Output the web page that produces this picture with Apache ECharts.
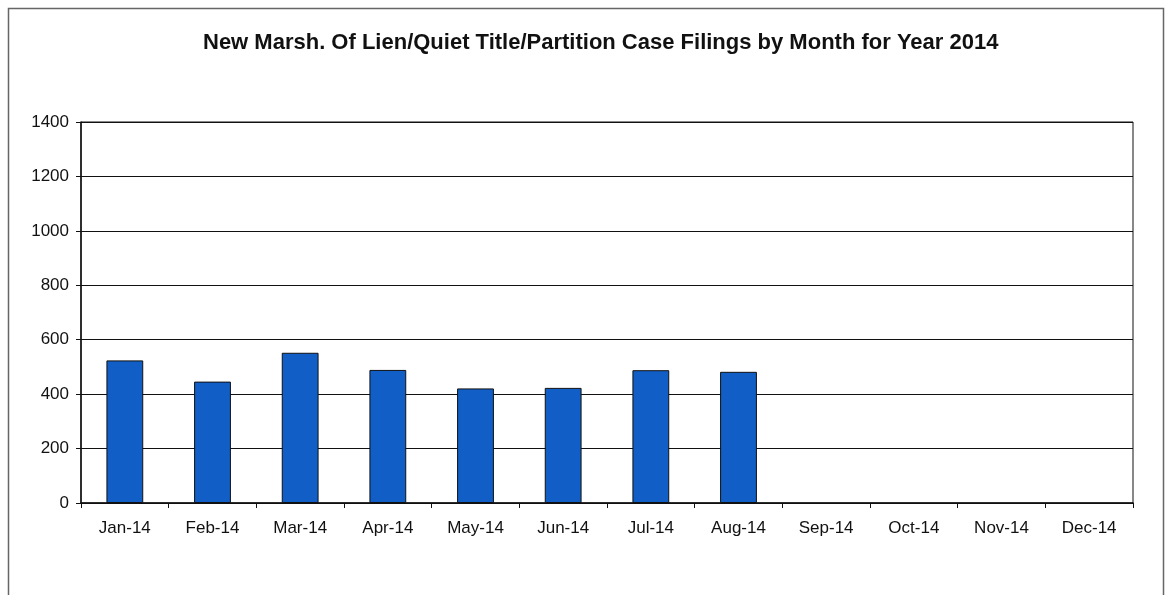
<!DOCTYPE html>
<html>
<head>
<meta charset="utf-8">
<script src="https://cdn.jsdelivr.net/npm/echarts@6/dist/echarts.min.js"></script>
<style>
  html, body { margin: 0; padding: 0; background: #ffffff; }
  #chart { width: 1168px; height: 595px; }
</style>
</head>
<body>
<div id="chart"></div>
<script>
// Monthly filing counts for 2014 (Sep–Dec not yet reported)
const months = ['Jan-14', 'Feb-14', 'Mar-14', 'Apr-14', 'May-14', 'Jun-14',
                'Jul-14', 'Aug-14', 'Sep-14', 'Oct-14', 'Nov-14', 'Dec-14'];
const filings = [524, 446, 552, 489, 421, 423, 488, 482, null, null, null, null];
const yMin = 0;
const yMax = 1400;
const yStep = 200;

const chart = echarts.init(document.getElementById('chart'), null, { renderer: 'canvas' });

chart.setOption({
  animation: false,
  backgroundColor: '#ffffff',
  title: {
    text: 'New Marsh. Of Lien/Quiet Title/Partition Case Filings by Month for Year 2014',
    left: 198,
    top: 27,
    textStyle: {
      fontFamily: 'Liberation Sans, Arial, sans-serif',
      fontSize: 22,
      fontWeight: 'bold',
      color: '#111111'
    }
  },
  graphic: [{
    type: 'rect',
    shape: { x: 8.5, y: 8.5, width: 1155, height: 600 },
    style: { fill: 'none', stroke: '#666666', lineWidth: 1.5 },
    silent: true
  }],
  grid: {
    left: 81,
    right: 35,
    top: 122,
    bottom: 92,
    show: true,
    borderColor: '#111111',
    borderWidth: 1
  },
  xAxis: {
    type: 'category',
    data: months,
    boundaryGap: true,
    axisLine: { lineStyle: { color: '#111111', width: 1.5 } },
    axisTick: { show: true, length: 5, lineStyle: { color: '#111111' } },
    axisLabel: {
      margin: 17,
      fontFamily: 'Liberation Sans, Arial, sans-serif',
      fontSize: 17,
      color: '#111111'
    }
  },
  yAxis: {
    type: 'value',
    min: yMin,
    max: yMax,
    interval: yStep,
    axisLine: { show: true, lineStyle: { color: '#111111', width: 1.5 } },
    axisTick: { show: true, length: 5, lineStyle: { color: '#111111' } },
    axisLabel: {
      margin: 12,
      formatter: (v) => String(v),
      fontFamily: 'Liberation Sans, Arial, sans-serif',
      fontSize: 17,
      color: '#111111'
    },
    splitLine: { show: true, lineStyle: { color: '#111111', width: 1.2 } }
  },
  series: [{
    type: 'bar',
    data: filings,
    barWidth: '42%',
    itemStyle: {
      color: '#115fc6',
      borderColor: '#111111',
      borderWidth: 1
    }
  }]
});
</script>
</body>
</html>
